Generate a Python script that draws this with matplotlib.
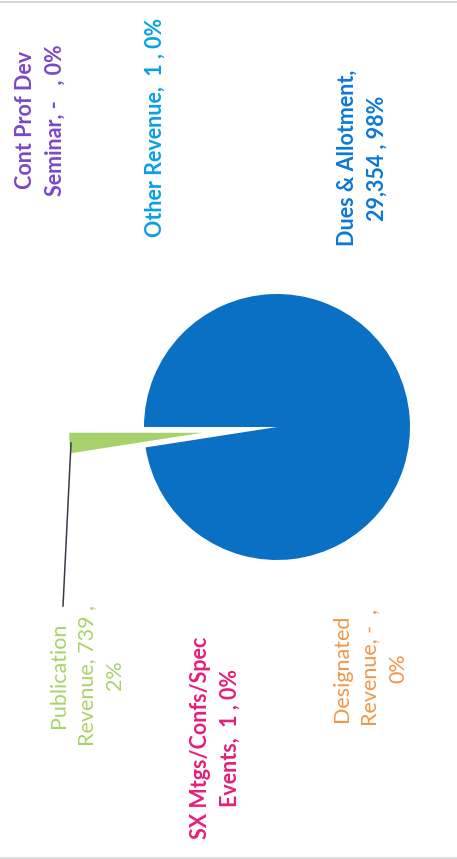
import matplotlib
matplotlib.use("Agg")
import matplotlib.pyplot as plt

# Revenue breakdown (pie drawn sideways, labels read bottom-to-top)
categories = ["Publication Revenue", "SX Mtgs/Confs/Spec Events", "Designated Revenue",
              "Dues & Allotment", "Cont Prof Dev Seminar", "Other Revenue"]
values = [739, 1, 0, 29354, 0, 1]
label_fmt = [
    "Publication\nRevenue, {v} ,\n{p}%",
    "SX Mtgs/Confs/Spec\nEvents,  {v} , {p}%",
    "Designated\nRevenue, {v}  ,\n{p}%",
    "Dues & Allotment,\n{v} , {p}%",
    "Cont Prof Dev\nSeminar, {v}   , {p}%",
    "Other Revenue,  {v} , {p}%",
]
wedge_colors = ["#a6d16c", "#e8207c", "#f5964c", "#0a70c4", "#7f4cc4", "#0aa2e8"]
text_colors = ["#a9d26a", "#e4207a", "#f39548", "#0c78d6", "#7b48c8", "#0aa0e6"]
text_weights = ["normal", "bold", "normal", "bold", "bold", "bold"]
label_pos = [(87, 675), (215, 738), (370, 668), (362, 158), (40, 120), (155, 127)]

W, H = 457, 859
fig = plt.figure(figsize=(W / 100, H / 100), dpi=100)
ax = fig.add_axes([0, 0, 1, 1])

radius = 133
explode = [75 if c == "Publication Revenue" else 0 for c in categories]
ax.pie(values, colors=wedge_colors, center=(277, 427), radius=radius,
       startangle=180, counterclock=False, explode=explode,
       wedgeprops=dict(linewidth=0), frame=True)
ax.set_xlim(0, W)
ax.set_ylim(H, 0)
ax.set_aspect("equal")
ax.axis("off")

total = sum(values)
for fmt, v, col, wt, (x, y) in zip(label_fmt, values, text_colors, text_weights, label_pos):
    vs = "-" if v == 0 else f"{v:,}"
    txt = fmt.format(v=vs, p=round(v / total * 100))
    ax.text(x, y, txt, rotation=90, ha="center", va="center", multialignment="center",
            color=col, fontsize=15.5, fontweight=wt, family=["Lato", "DejaVu Sans"],
            linespacing=1.5)

# leader line from the pulled-out slice to its label
ax.plot([71, 63], [443, 606], color="#3a3a4a", linewidth=1.1)

# faint page edges from the scan
ax.plot([0, W], [1.5, 1.5], color="#d0d0d0", linewidth=1.2)
ax.plot([0, W], [857.5, 857.5], color="#d8d8d8", linewidth=1.2)

fig.savefig("out.png", dpi=100)
